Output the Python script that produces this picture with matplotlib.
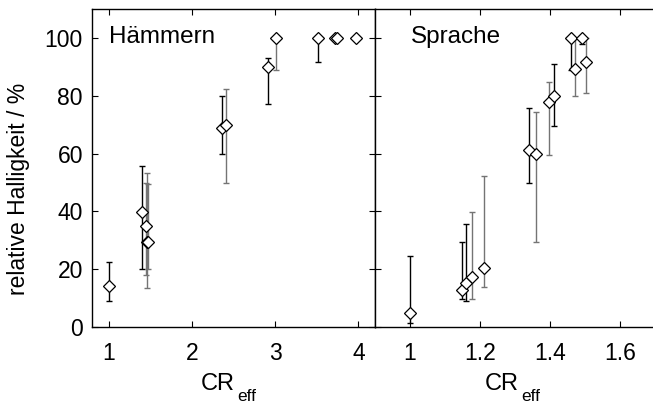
import matplotlib
matplotlib.use("Agg")
import matplotlib.pyplot as plt

plt.rcParams['font.family'] = ['Liberation Sans', 'DejaVu Sans']

# Haemmern panel
ham_x = [1.00, 1.40, 1.45, 1.46, 1.47, 2.36, 2.41, 2.91, 3.01, 3.52, 3.72, 3.74, 3.97]
ham_y = [14.3, 39.9, 34.9, 29.5, 29.5, 68.9, 69.8, 89.8, 100, 100, 100, 100, 100]
ham_lo = [9.0, 19.9, 18.0, 13.6, 20.0, 60.0, 49.7, 77.2, 88.9, 91.8, 100, 100, 100]
ham_hi = [22.6, 55.8, 49.8, 53.1, 49.5, 80.0, 82.2, 93.2, 100, 100, 100, 100, 100]
ham_gray = [0, 0, 1, 1, 1, 0, 1, 0, 1, 0, 0, 0, 0]

# Sprache panel
spr_x = [1.00, 1.148, 1.159, 1.176, 1.211, 1.34, 1.361, 1.397, 1.411, 1.461, 1.47, 1.49, 1.504]
spr_y = [4.7, 12.8, 15.1, 17.2, 20.5, 61.2, 59.8, 77.9, 79.8, 100, 89.4, 100, 91.7]
spr_lo = [1.3, 9.7, 9.0, 9.7, 13.7, 49.7, 29.5, 59.5, 69.6, 89.0, 79.8, 98.0, 81.1]
spr_hi = [24.5, 29.5, 35.6, 39.9, 52.3, 75.9, 74.4, 84.8, 91.1, 100, 100, 100, 100]
spr_gray = [0, 0, 0, 1, 1, 0, 1, 1, 0, 0, 1, 0, 1]

fig = plt.figure(figsize=(6.53, 4.05), dpi=100)
ax1 = fig.add_axes([92/653, 78/405, 283/653, 318/405])
ax2 = fig.add_axes([375/653, 78/405, 280/653, 318/405])


def draw(ax, xs, ys, lo, hi, gray):
    for x, y, l, h, g in zip(xs, ys, lo, hi, gray):
        col = '#747474' if g else 'black'
        if h - l > 0:
            ax.errorbar([x], [y], yerr=[[y - l], [h - y]], fmt='none',
                        ecolor=col, elinewidth=1.0, capsize=2.5, capthick=1.0, zorder=2)
        ax.plot([x], [y], 'D', ms=6.2, mfc='white', mec='black', mew=0.9, zorder=3)
    ax.set_ylim(0, 110)
    ax.set_yticks([0, 20, 40, 60, 80, 100])
    ax.tick_params(direction='in', length=4, labelsize=16.5, width=0.8)
    ax.tick_params(axis='x', pad=11)
    ax.tick_params(axis='y', pad=6.5)
    for s in ax.spines.values():
        s.set_linewidth(1.0)


draw(ax1, ham_x, ham_y, ham_lo, ham_hi, ham_gray)
draw(ax2, spr_x, spr_y, spr_lo, spr_hi, spr_gray)

ax1.set_xlim(0.8, 4.2)
ax1.set_xticks([1, 2, 3, 4])
ax1.tick_params(top=True, right=True)
ax1.text(0.06, 0.912, 'Hämmern', transform=ax1.transAxes, fontsize=17.5, va='center')

ax2.set_xlim(0.9, 1.7)
ax2.set_xticks([1, 1.2, 1.4, 1.6])
ax2.set_xticklabels(['1', '1.2', '1.4', '1.6'])
ax2.tick_params(top=True, left=True, labelleft=False)
ax2.text(0.129, 0.912, 'Sprache', transform=ax2.transAxes, fontsize=17.5, va='center')

# axis labels
fig.text(19/653, 0.5 + 14/405, 'relative Halligkeit / %', rotation=90,
         fontsize=16.5, ha='center', va='center')
for cx, ex in [(201, 237), (485, 521)]:
    fig.text(cx/653, 1 - 390/405, 'CR', fontsize=17, ha='left', va='baseline')
    fig.text(ex/653, 1 - 401/405, 'eff', fontsize=12.5, ha='left', va='baseline')

fig.savefig('out.png', dpi=100)
